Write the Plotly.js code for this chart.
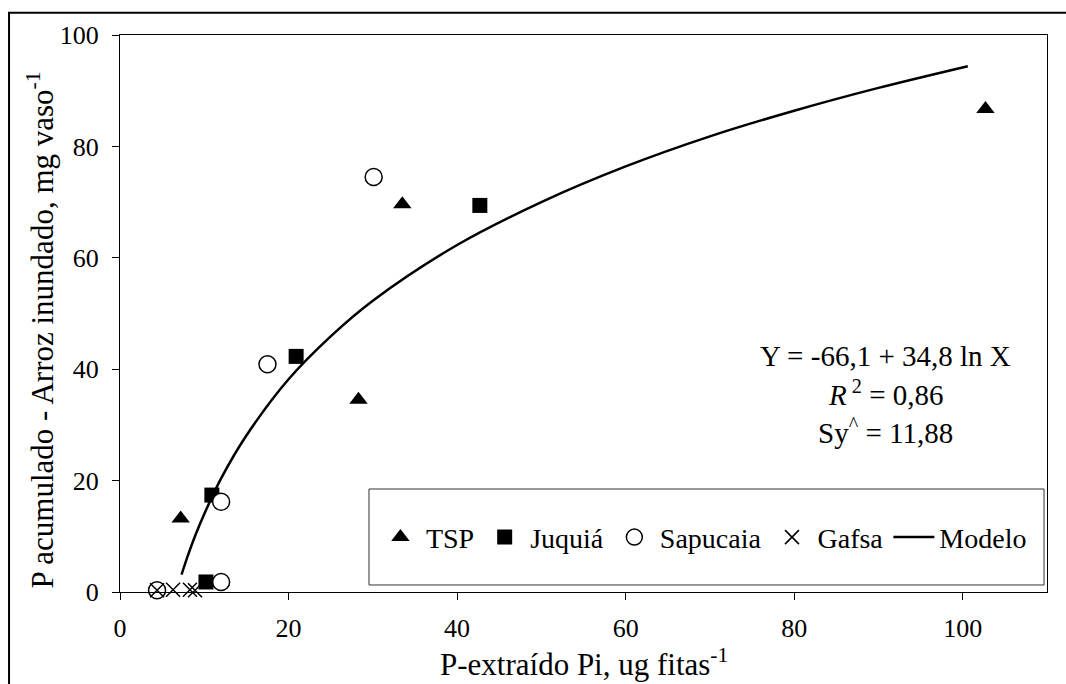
<!DOCTYPE html>
<html>
<head>
<meta charset="utf-8">
<script src="https://cdn.plot.ly/plotly-3.0.1.min.js"></script>
<style>html,body{margin:0;padding:0;background:#fff;}#chart{width:1066px;height:684px;}</style>
</head>
<body>
<div id="chart"></div>
<script>
// Data
var tspX = [7.2, 28.3, 33.5, 102.7];
var tspY = [13.2, 34.5, 69.6, 86.7];
var juquiaX = [10.2, 10.9, 20.9, 42.7];
var juquiaY = [1.8, 17.4, 42.3, 69.4];
var sapucaiaX = [4.4, 12.0, 12.0, 17.5, 30.1];
var sapucaiaY = [0.3, 1.8, 16.2, 40.9, 74.5];
var gafsaX = [4.4, 6.3, 8.3, 8.9];
var gafsaY = [0.3, 0.4, 0.4, 0.3];
var modelX = [7.3, 8, 9, 10, 12, 15, 20, 25, 30, 40, 50, 60, 70, 80, 90, 100.6];
var modelY = [3.1, 6.3, 10.4, 14.0, 20.4, 28.1, 38.2, 45.9, 52.3, 62.3, 70.0, 76.4, 81.8, 86.4, 90.5, 94.4];
var xTicks = [0, 20, 40, 60, 80, 100];
var yTicks = [0, 20, 40, 60, 80, 100];
var seriesNames = ['TSP', 'Juquiá', 'Sapucaia', 'Gafsa', 'Modelo'];
var xTitle = 'P-extraído Pi, ug fitas<sup>-1</sup>';
var yTitle = 'P acumulado - Arroz inundado, mg vaso<sup>-1</sup>';
var eqLines = ['Y = -66,1 + 34,8 ln X', '<i>R</i><sup> 2</sup> = 0,86', 'Sy<sup>^</sup> = 11,88'];

var FONT = 'Liberation Serif';

var traces = [
  {x: tspX, y: tspY, name: seriesNames[0], type: 'scatter', mode: 'markers', cliponaxis: false,
   marker: {symbol: 'triangle-up', size: 16, color: '#000'}},
  {x: juquiaX, y: juquiaY, name: seriesNames[1], type: 'scatter', mode: 'markers', cliponaxis: false,
   marker: {symbol: 'square', size: 15, color: '#000'}},
  {x: sapucaiaX, y: sapucaiaY, name: seriesNames[2], type: 'scatter', mode: 'markers', cliponaxis: false,
   marker: {symbol: 'circle', size: 17, color: '#fff', line: {color: '#000', width: 1.5}}},
  {x: gafsaX, y: gafsaY, name: seriesNames[3], type: 'scatter', mode: 'markers', cliponaxis: false,
   marker: {symbol: 'x-thin-open', size: 14, color: '#000', line: {color: '#000', width: 1.5}}},
  {x: modelX, y: modelY, name: seriesNames[4], type: 'scatter', mode: 'lines',
   line: {color: '#000', width: 2.5, shape: 'spline'}}
];

var layout = {
  width: 1066, height: 684,
  margin: {l: 120, r: 19, t: 35, b: 92},
  paper_bgcolor: '#fff', plot_bgcolor: '#fff',
  font: {family: FONT, color: '#000', size: 26},
  showlegend: true,
  legend: {orientation: 'h', x: 0.2750, xanchor: 'left', y: 0.098, yanchor: 'middle',
           bgcolor: 'rgba(0,0,0,0)', borderwidth: 0, font: {family: FONT, size: 28, color: '#000'},
           itemwidth: 41, traceorder: 'normal'},
  xaxis: {range: [0, 110], tickvals: xTicks, ticktext: xTicks.map(String), ticks: 'outside', ticklen: 7, tickwidth: 1,
          tickcolor: '#000', showline: true, linecolor: '#000', linewidth: 1, mirror: true,
          showgrid: false, zeroline: false, tickfont: {family: FONT, size: 26, color: '#000'}, ticklabelstandoff: 6},
  yaxis: {range: [0, 100], tickvals: yTicks, ticktext: yTicks.map(String), ticks: 'outside', ticklen: 7, tickwidth: 1,
          tickcolor: '#000', showline: true, linecolor: '#000', linewidth: 1, mirror: true,
          showgrid: false, zeroline: false, tickfont: {family: FONT, size: 26, color: '#000'}, ticklabelstandoff: 8},
  shapes: [
    {type: 'rect', xref: 'paper', yref: 'paper', x0: -0.1197, x1: 1.1, y0: -0.3, y1: 1.040,
     line: {color: '#000', width: 2}, fillcolor: 'rgba(0,0,0,0)', layer: 'below'},
    {type: 'rect', xref: 'paper', yref: 'paper', x0: 0.2686, x1: 0.9968, y0: 0.0126, y1: 0.1849,
     line: {color: '#333', width: 1}, fillcolor: 'rgba(0,0,0,0)', layer: 'below'}
  ],
  annotations: [
    {text: xTitle, xref: 'paper', yref: 'paper', x: 0.5, y: -0.127, xanchor: 'center', yanchor: 'middle',
     showarrow: false, font: {family: FONT, size: 31, color: '#000'}},
    {text: yTitle, xref: 'paper', yref: 'paper', x: -0.086, y: 0.47, xanchor: 'center', yanchor: 'middle',
     textangle: -90, showarrow: false, font: {family: FONT, size: 31, color: '#000'}},
    {text: eqLines[0], xref: 'paper', yref: 'paper', x: 0.826, y: 0.4237, xanchor: 'center', yanchor: 'middle',
     showarrow: false, font: {family: FONT, size: 29, color: '#000'}},
    {text: eqLines[1], xref: 'paper', yref: 'paper', x: 0.826, y: 0.3575, xanchor: 'center', yanchor: 'middle',
     showarrow: false, font: {family: FONT, size: 29, color: '#000'}},
    {text: eqLines[2], xref: 'paper', yref: 'paper', x: 0.826, y: 0.2885, xanchor: 'center', yanchor: 'middle',
     showarrow: false, font: {family: FONT, size: 29, color: '#000'}}
  ]
};

Plotly.newPlot('chart', traces, layout, {displayModeBar: false, staticPlot: true});
</script>
</body>
</html>
